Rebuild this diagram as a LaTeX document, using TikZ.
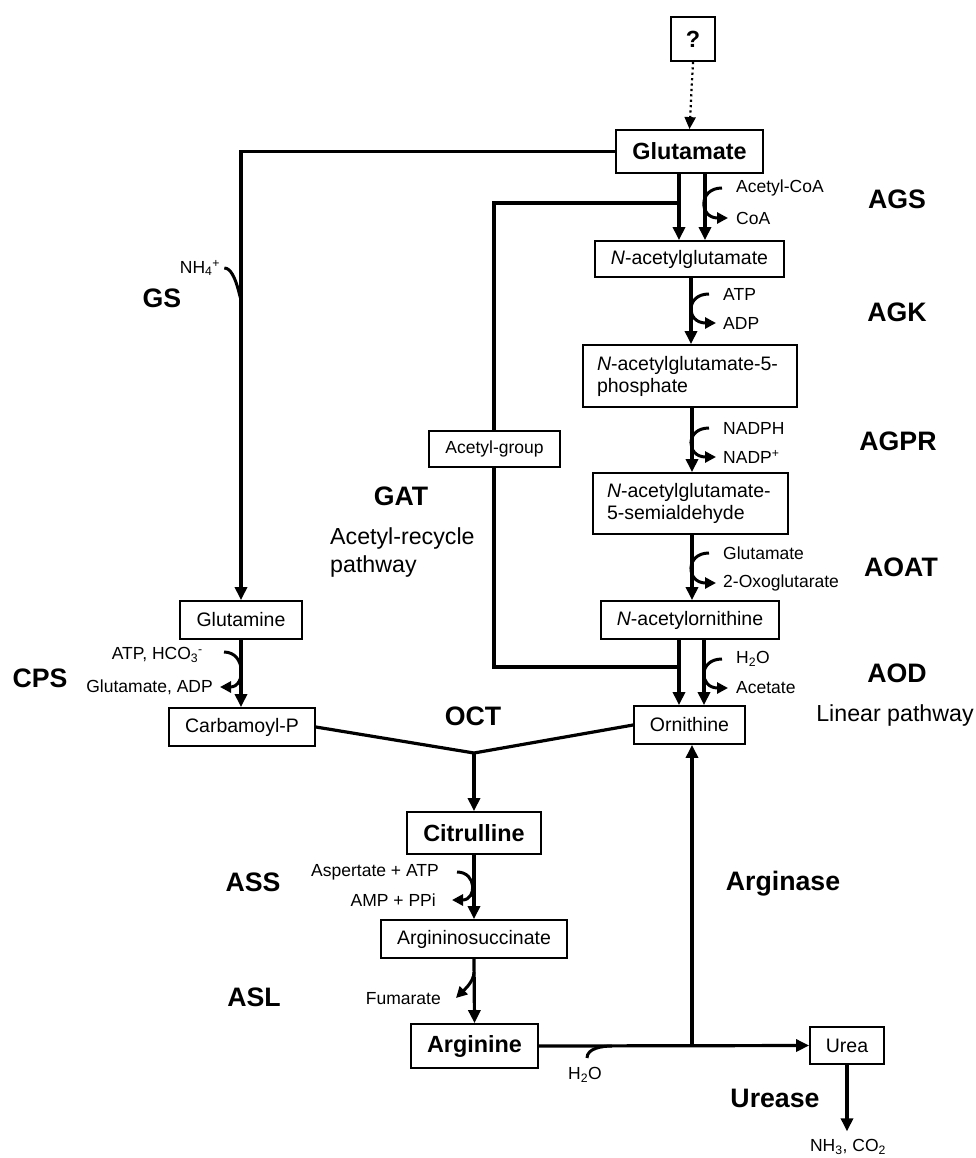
\documentclass[tikz,border=0pt]{standalone}
\usepackage{fontspec}
\setmainfont{Liberation Sans}
\usetikzlibrary{arrows.meta}
\newcommand{\fmain}{\fontsize{19.5}{22}\selectfont}
\newcommand{\fsmall}{\fontsize{17.5}{20}\selectfont}
\newcommand{\fbold}{\fontsize{23.4}{26}\selectfont\bfseries}
\newcommand{\fenz}{\fontsize{26.7}{30}\selectfont\bfseries}
\newcommand{\fpath}{\fontsize{23.2}{28}\selectfont}
\begin{document}
\begin{tikzpicture}[x=1pt,y=-1pt,
  box/.style={draw, line width=1.8pt, fill=white, inner sep=0pt, font=\fmain, align=center},
  lbl/.style={inner sep=0pt, font=\fsmall},
  enz/.style={inner sep=0pt, font=\fenz},
  arr/.style={line width=3.2pt, -{Triangle[length=13pt,width=12pt]}},
  ln/.style={line width=3.2pt},
  side/.style={line width=3pt, -{Triangle[length=11pt,width=11pt]}},
  sidein/.style={line width=3pt}]
\useasboundingbox (0,0) rectangle (975,1158);

% boxes
\node[box, minimum width=44pt, minimum height=44pt, font=\fbold] (q) at (693,39) {?};
\node[box, minimum width=147pt, minimum height=43pt, font=\fbold] (glu) at (689.5,151.5) {Glutamate};
\node[box, minimum width=189pt, minimum height=36pt] (nag) at (689.5,259) {\textit{N}-acetylglutamate};
\node[box, text width=186pt, inner xsep=14pt, minimum height=62pt, align=left] (nagp) at (690,376) {\textit{N}-acetylglutamate-5-\\phosphate};
\node[box, text width=167pt, inner xsep=14pt, minimum height=61pt, align=left] (nags) at (690.5,503.5) {\textit{N}-acetylglutamate-\\5-semialdehyde};
\node[box, minimum width=178pt, minimum height=38pt] (nao) at (690,620) {\textit{N}-acetylornithine};
\node[box, minimum width=111pt, minimum height=38pt] (orn) at (689.5,725) {Ornithine};
\node[box, minimum width=122pt, minimum height=38pt] (gln) at (241,620) {Glutamine};
\node[box, minimum width=146pt, minimum height=38pt] (cp) at (242,727) {Carbamoyl-P};
\node[box, minimum width=134pt, minimum height=42pt, font=\fbold] (cit) at (474,833) {Citrulline};
\node[box, minimum width=186pt, minimum height=38pt] (asu) at (474,939) {Argininosuccinate};
\node[box, minimum width=127pt, minimum height=44pt, font=\fbold] (arg) at (474.5,1046) {Arginine};
\node[box, minimum width=74pt, minimum height=37pt] (urea) at (847,1045.5) {Urea};

% column coordinates
\coordinate (cA) at (679,0);
\coordinate (cB) at (705,0);
\coordinate (cL) at (494,0);
\coordinate (jglu) at (679,203);
\coordinate (jorn) at (679,667);
\coordinate (joct) at (474,753);

% dotted arrow
\draw[line width=2.2pt, dash pattern=on 2.2pt off 3.2pt, -{Triangle[length=12pt,width=11pt]}] (q.south) -- (glu.north);

% acetyl-recycle loop (drawn before box)
\draw[ln] (jglu) -- (cL |- jglu) -- (cL |- jorn) -- (jorn);
\node[box, font=\fsmall, minimum width=131pt, minimum height=36pt] (acg) at (494.5,449) {Acetyl-group};

% linear chain
\draw[arr] (cA |- glu.south) -- (cA |- nag.north);
\draw[arr] (cB |- glu.south) -- (cB |- nag.north);
\draw[arr] (nag.south -| 691,0) -- (nagp.north -| 691,0);
\draw[arr] (nagp.south -| 692,0) -- (nags.north -| 692,0);
\draw[arr] (nags.south -| 692,0) -- (nao.north -| 692,0);
\draw[arr] (cA |- nao.south) -- (cA |- orn.north);
\draw[arr] (704,0 |- nao.south) -- (704,0 |- orn.north);

% side labels right
\node[lbl, anchor=west] (accoa) at (736,188) {Acetyl-CoA};
\node[lbl, anchor=west] (coa) at (736,218) {CoA};
\node[lbl, anchor=west] (atp1) at (723,294) {ATP};
\node[lbl, anchor=west] (adp1) at (723,323) {ADP};
\node[lbl, anchor=west] (nadph) at (723,428) {NADPH};
\node[lbl, anchor=west] (nadp) at (723,457) {NADP\textsuperscript{+}};
\node[lbl, anchor=west] (gluL) at (723,553) {Glutamate};
\node[lbl, anchor=west] (oxo) at (723,583) {2-Oxoglutarate};
\node[lbl, anchor=west] (h2oa) at (736,659) {H\textsubscript{2}O};
\node[lbl, anchor=west] (acet) at (736,688) {Acetate};

\draw[side] ([xshift=-14pt]accoa.west) .. controls +(-24,0) and +(-29,0) .. ([xshift=-8pt]coa.west);
\draw[side] ([xshift=-14pt]atp1.west) .. controls +(-24,0) and +(-30,0) .. ([xshift=-7pt]adp1.west);
\draw[side] ([xshift=-14pt]nadph.west) .. controls +(-24,0) and +(-30,0) .. ([xshift=-7pt]nadp.west);
\draw[side] ([xshift=-14pt]gluL.west) .. controls +(-24,0) and +(-30,0) .. ([xshift=-7pt]oxo.west);
\draw[side] ([xshift=-14pt]h2oa.west) .. controls +(-24,0) and +(-29,0) .. ([xshift=-8pt]acet.west);

% GS branch
\draw[arr] (glu.west) -| (gln.north);
\node[lbl] (nh4) at (200,268) {NH\textsubscript{4}\textsuperscript{+}};
\draw[sidein] ([xshift=4pt]nh4.east) to[out=0,in=-90,looseness=1] (241,296);

% CPS
\draw[arr] (gln.south) -- (gln.south |- cp.north);
\node[lbl, anchor=east] (atphco) at (203,655) {ATP, HCO\textsubscript{3}\textsuperscript{-}};
\node[lbl, anchor=east] (gluadp) at (213,687) {Glutamate, ADP};
\draw[side] (224,652) .. controls +(22,0) and +(26,0) .. ([xshift=7pt]gluadp.east);

% OCT
\draw[ln] (cp.east) -- (joct);
\draw[ln] (orn.west) -- (joct);
\draw[arr] (joct) -- (cit.north);

% ASS
\draw[arr] (cit.south) -- (asu.north);
\node[lbl, anchor=east] (aspatp) at (439,872) {Aspertate + ATP};
\node[lbl, anchor=east] (amp) at (436,900) {AMP + PPi};
\draw[side] ([xshift=18pt]aspatp.east) .. controls +(20,0) and +(25,0) .. ([xshift=16pt]amp.east);

% ASL
\draw[arr] (asu.south) -- (arg.north);
\node[lbl, anchor=east] (fum) at (441,999) {Fumarate};
\draw[side] (474,972) to[out=-90,in=45,looseness=0.8] ([xshift=15pt,yshift=1pt]fum.east);

% Arginase / urea
\coordinate (jarg) at (692,0 |- arg.east);
\draw[arr] (arg.east) -- (urea.west);
\draw[arr] (jarg) -- (692,0 |- orn.south);
\node[lbl] (h2ob) at (585,1075) {H\textsubscript{2}O};
\draw[sidein] (587,1058) to[out=90,in=180,looseness=0.9] (612,1046);
\node[lbl] (nh3) at (848,1147) {NH\textsubscript{3}, CO\textsubscript{2}};
\draw[arr, shorten >=8pt] (urea.south) -- (urea.south |- nh3.north);

% enzyme labels
\node[enz] (AGS) at (897,199) {AGS};
\node[enz] (AGK) at (897,312) {AGK};
\node[enz] (AGPR) at (898,441) {AGPR};
\node[enz] (AOAT) at (901,567) {AOAT};
\node[enz] (AOD) at (897,673) {AOD};
\node[inner sep=0pt, font=\fpath] (linp) at (895,715) {Linear pathway};
\node[enz] (GS) at (162,298) {GS};
\node[enz] (CPS) at (40,678) {CPS};
\node[enz] (GAT) at (401,496) {GAT};
\node[inner sep=0pt, font=\fpath, align=left, anchor=west] (acrp) at (330,552) {Acetyl-recycle\\pathway};
\node[enz] (OCT) at (473,716) {OCT};
\node[enz] (ASS) at (253,882) {ASS};
\node[enz] (ASL) at (254,997) {ASL};
\node[enz] (ARG) at (783,884) {Arginase};
\node[enz] (URE) at (775,1098) {Urease};
\end{tikzpicture}
\end{document}
